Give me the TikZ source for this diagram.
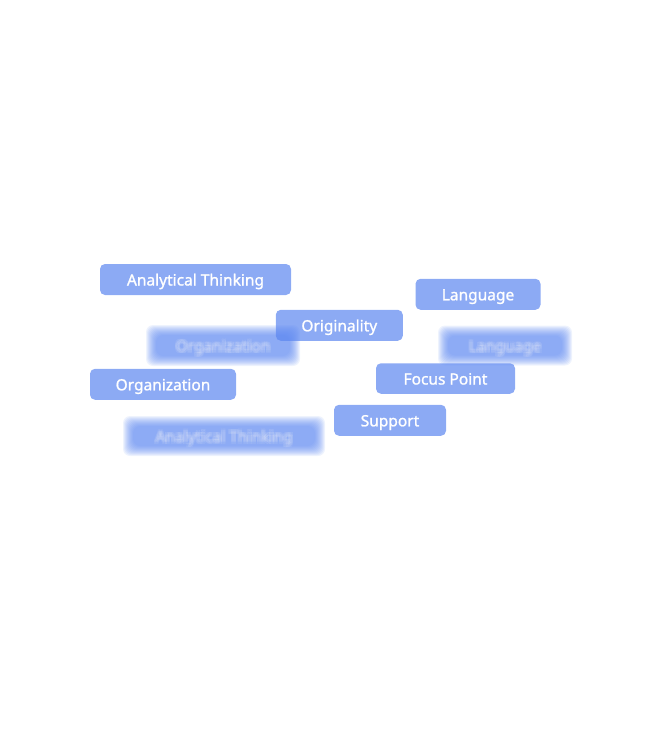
\documentclass[tikz,border=0pt]{standalone}
\usepackage{fontspec}
\setmainfont{Noto Sans}
\newfontfamily\tagfont[FakeBold=1.2]{Noto Sans}
\definecolor{tagblue}{RGB}{91,134,240}
\tikzset{
  tagfontsize/.style={font=\tagfont\fontsize{15.5}{17}\selectfont, text height=13pt, text depth=1pt},
  tag/.style={tagfontsize, fill=tagblue, fill opacity=0.7, text opacity=1, text=white,
    rounded corners=5pt, inner sep=0pt},
  blurtext/.style={tagfontsize, text=white, text opacity=0.07, inner sep=0pt},
  blurlayer/.style={fill=tagblue, fill opacity=0.1, rounded corners=7pt}
}
\newcommand{\blurtag}[6]{%
  \foreach \d in {-5,-4,...,5}{%
    \fill[blurlayer] ({#2-#4/2-\d},{-#3+#5/2+\d}) rectangle ({#2+#4/2+\d},{-#3-#5/2-\d});
  }%
  \foreach \dx/\dy in {-1.5/-1.5,0/-1.5,1.5/-1.5,-1.5/0,1.5/0,-1.5/1.5,0/1.5,1.5/1.5}{%
    \node[blurtext] at ({#2+\dx},{-#3+\dy}) {#6};
  }%
  \node[blurtext, minimum width=#4pt, minimum height=#5pt] (#1) at (#2,-#3) {#6};
}
\begin{document}
\begin{tikzpicture}[x=1pt,y=1pt]
\useasboundingbox (0,0) rectangle (658,-738);
% blurred tags
\blurtag{bOrg}{223}{345.5}{144}{31}{Organization}
\blurtag{bLang}{505}{345.5}{124}{30}{Language}
\blurtag{bAT}{224}{436}{192}{30}{Analytical Thinking}
% solid tags
\node[tag, minimum width=191pt, minimum height=31pt] (at) at (195.5,-279.5) {Analytical Thinking};
\node[tag, minimum width=125pt, minimum height=31pt] (lang) at (478,-294.3) {Language};
\node[tag, minimum width=127pt, minimum height=31pt] (orig) at (339.3,-325.3) {Originality};
\node[tag, minimum width=146pt, minimum height=31pt] (org) at (163,-384.3) {Organization};
\node[tag, minimum width=139pt, minimum height=30.5pt] (fp) at (445.5,-378.5) {Focus Point};
\node[tag, minimum width=112pt, minimum height=31pt] (sup) at (390,-420.3) {Support};
\end{tikzpicture}
\end{document}
